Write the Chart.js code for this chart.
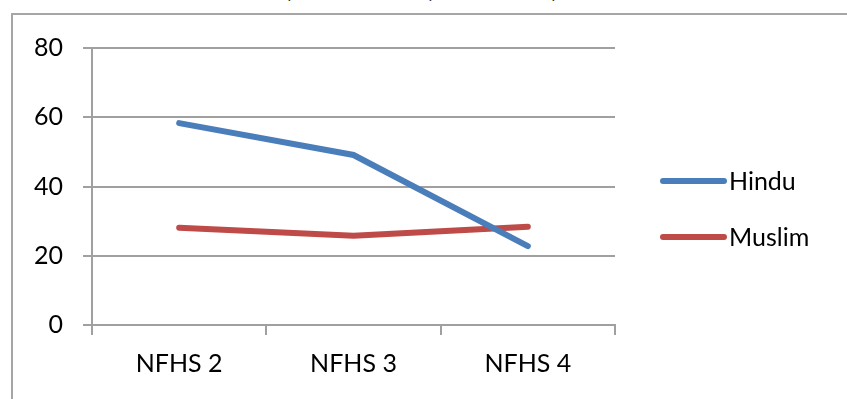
<!DOCTYPE html>
<html>
<head>
<meta charset="utf-8">
<script src="https://cdn.jsdelivr.net/npm/chart.js@4/dist/chart.umd.min.js"></script>
<style>
  html, body { margin: 0; padding: 0; background: #fff; overflow: hidden; }
  #wrap { position: relative; width: 847px; height: 399px; }
  #frame { position: absolute; left: 11px; top: 13px; width: 900px; height: 450px; border: 2px solid #a6a6a6; }
  #chart { position: absolute; left: 0; top: 0; }
  .mark { position: absolute; top: -3px; font: bold 13px "DejaVu Sans", sans-serif; color: #222; }
</style>
</head>
<body>
<div id="wrap">
  <div id="frame"></div>
  <span class="mark" style="left:286px">´</span>
  <span class="mark" style="left:427px">´</span>
  <span class="mark" style="left:550px">´</span>
  <canvas id="chart" width="847" height="399"></canvas>
</div>
<script>
const categories = ["NFHS 2", "NFHS 3", "NFHS 4"];
const hindu = [58.3, 49.1, 22.8];
const muslim = [28.1, 25.8, 28.4];
const yTicks = [0, 20, 40, 60, 80];

const gridGrey = "#a0a0a0";
const labelFont = { family: "Lato, 'Open Sans', sans-serif", size: 25 };

// legend drawn to the right of the plot, from the datasets
const sideLegend = {
  id: "sideLegend",
  afterDraw(chart) {
    const ctx = chart.ctx;
    const rows = [181, 237];
    chart.data.datasets.forEach((ds, i) => {
      const y = rows[i];
      ctx.save();
      ctx.strokeStyle = ds.borderColor;
      ctx.lineWidth = 6;
      ctx.lineCap = "round";
      ctx.beginPath();
      ctx.moveTo(663, y);
      ctx.lineTo(724, y);
      ctx.stroke();
      ctx.fillStyle = "#000";
      ctx.font = "25px Lato, 'Open Sans', sans-serif";
      ctx.textBaseline = "middle";
      ctx.fillText(ds.label, 729, y + 1);
      ctx.restore();
    });
  }
};

new Chart(document.getElementById("chart"), {
  type: "line",
  data: {
    labels: categories,
    datasets: [
      {
        label: "Hindu",
        data: hindu,
        borderColor: "#4a7ebb",
        borderWidth: 6,
        borderCapStyle: "round",
        pointRadius: 0,
        tension: 0
      },
      {
        label: "Muslim",
        data: muslim,
        borderColor: "#be4b48",
        borderWidth: 6,
        borderCapStyle: "round",
        pointRadius: 0,
        tension: 0
      }
    ]
  },
  options: {
    responsive: false,
    animation: false,
    layout: { padding: { top: 48, right: 232, left: 0, bottom: 0 } },
    plugins: {
      legend: { display: false },
      tooltip: { enabled: false }
    },
    scales: {
      x: {
        offset: true,
        grid: {
          offset: true,
          drawOnChartArea: false,
          tickLength: 10,
          color: gridGrey,
          lineWidth: 2
        },
        border: { color: gridGrey, width: 2 },
        ticks: { color: "#000", font: labelFont, padding: 14 },
        afterFit: (scale) => { scale.height = 74; }
      },
      y: {
        min: 0,
        max: 80,
        afterBuildTicks: (scale) => { scale.ticks = yTicks.map((v) => ({ value: v })); },
        grid: { tickLength: 9, color: gridGrey, lineWidth: 2 },
        border: { color: gridGrey, width: 2 },
        ticks: { color: "#000", font: labelFont, padding: 20 },
        afterFit: (scale) => { scale.width = 92; }
      }
    }
  },
  plugins: [sideLegend]
});
</script>
</body>
</html>
